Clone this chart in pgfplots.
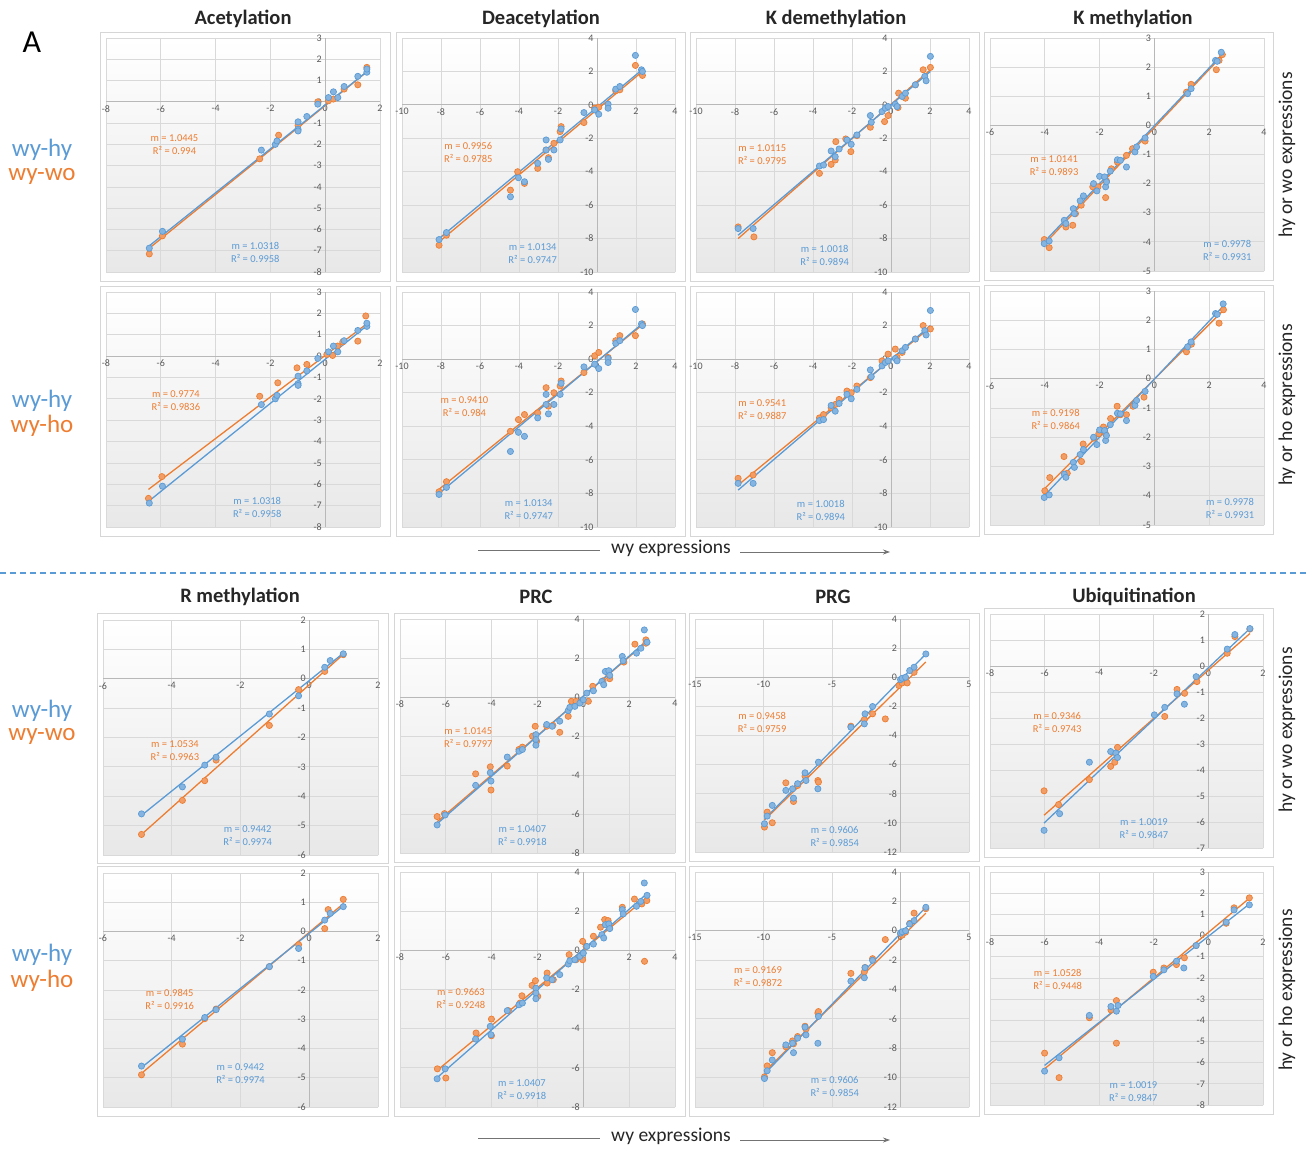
\documentclass[border=0pt]{standalone}
\usepackage{fontspec}
\setmainfont{Carlito}
\usepackage{pgfplots}
\pgfplotsset{compat=1.18}
\usetikzlibrary{arrows.meta}
\definecolor{bluec}{HTML}{5B9BD5}
\definecolor{orc}{HTML}{ED7D31}
\definecolor{gridc}{HTML}{D9D9D9}
\definecolor{tickc}{HTML}{595959}
\definecolor{framec}{HTML}{D6D6D6}
\definecolor{bgc}{HTML}{E8E8E8}
\pgfplotsset{
 panel/.style={scale only axis, anchor=north west, axis lines=middle,
   axis line style={-, draw=black!28, line width=0.8pt},
   grid=major, major grid style={draw=gridc, line width=0.8pt},
   major tick length=0pt,
   tick label style={font=\fontsize{10}{11}\selectfont, text=tickc},
   /pgf/number format/assume math mode=true,
   hide obscured x ticks=false, hide obscured y ticks=false, clip=false,
   axis background/.style={top color=white, middle color=white, bottom color=bgc}},
 bl/.style={only marks, mark=*, mark size=3.1pt, mark options={draw=bluec, fill=bluec!75, line width=0.7pt}},
 ol/.style={only marks, mark=*, mark size=3.1pt, mark options={draw=orc, fill=orc!75, line width=0.7pt}},
 blt/.style={no marks, draw=bluec, line width=1.3pt},
 olt/.style={no marks, draw=orc, line width=1.3pt},
}
\tikzset{ann/.style={font=\fontsize{10.5}{13}\selectfont, align=center}}
\begin{document}
\begin{tikzpicture}
\useasboundingbox (0,0) rectangle (1307pt,-1149pt);
% frames
\foreach \xa/\xb/\ya/\yb in {100/390/32/281, 396/685/32/281, 690/979/32/281, 984/1273/32/280,
  100/390/286/536, 396/685/286/536, 690/979/286/536, 984/1273/285/534,
  97/388/613/863, 394/685/613/862, 689/979/613/861, 984/1273/608/857,
  97/388/866/1116, 394/685/866/1116, 689/979/866/1116, 984/1273/866/1114}
  {\draw[framec, line width=0.8pt] (\xa pt,-\ya pt) rectangle (\xb pt,-\yb pt);}

% ---------- P1 Acetylation wy-wo
\begin{axis}[panel, at={(106pt,-38pt)}, width=274pt, height=234pt, xmin=-8,xmax=2,ymin=-8,ymax=3, xtick distance=2, ytick distance=1]
\addplot[ol] coordinates {(-6.42,-7.15) (-5.94,-6.3) (-2.39,-2.68) (-1.7,-1.57) (-0.27,0.0) (0.12,0.05) (0.3,0.13) (0.69,0.6) (1.19,0.8) (1.52,1.62) (-0.99,-1.1)};
\addplot[olt] coordinates {(-6.42,-6.88) (1.52,1.41)};
\addplot[bl] coordinates {(-6.42,-6.88) (-5.94,-6.09) (-2.33,-2.27) (-1.82,-2.0) (-1.76,-1.84) (-0.99,-0.94) (-0.99,-1.29) (-0.99,-1.37) (-0.67,-0.69) (-0.27,-0.11) (0.12,0.2) (0.3,0.47) (0.46,0.2) (0.69,0.72) (1.19,1.2) (1.52,1.39) (1.52,1.54)};
\addplot[blt] coordinates {(-6.42,-6.77) (1.52,1.42)};
\node[ann, orc] at (axis cs:-5.5,-2.0) {m = 1.0445\\R² = 0.994};
\node[ann, bluec] at (axis cs:-2.55,-7.08) {m = 1.0318\\R² = 0.9958};
\end{axis}

% ---------- P2 Deacetylation wy-wo
\begin{axis}[panel, at={(402pt,-38pt)}, width=273pt, height=234pt, xmin=-10,xmax=4,ymin=-10,ymax=4, xtick distance=2, ytick distance=2]
\addplot[ol] coordinates {(-8.1,-8.4) (-7.72,-7.8) (-4.44,-5.1) (-4.07,-4.0) (-3.72,-4.7) (-3.04,-3.8) (-2.61,-2.7) (-2.49,-3.16) (-2.21,-2.3) (-1.89,-1.6) (-1.84,-1.3) (-0.67,-1.06) (-0.12,-0.2) (0.09,-0.14) (0.96,0.84) (1.17,0.9) (1.97,2.36) (2.33,1.76)};
\addplot[olt] coordinates {(-8.1,-8.2) (2.33,2.0)};
\addplot[bl] coordinates {(-8.1,-8.06) (-7.72,-7.64) (-4.44,-5.5) (-4.03,-4.36) (-3.72,-4.6) (-3.04,-3.5) (-2.61,-2.1) (-2.61,-2.7) (-2.49,-3.26) (-2.21,-2.7) (-1.89,-2.1) (-1.84,-1.44) (-0.67,-0.46) (-0.12,-0.3) (0.09,-0.56) (0.57,0.04) (0.57,-0.2) (0.96,0.94) (1.17,1.1) (1.97,2.96) (2.28,2.1) (2.33,2.0)};
\addplot[blt] coordinates {(-8.1,-8.0) (2.33,2.12)};
\node[ann, orc] at (axis cs:-6.6,-2.84) {m = 0.9956\\R² = 0.9785};
\node[ann, bluec] at (axis cs:-3.3,-8.93) {m = 1.0134\\R² = 0.9747};
\end{axis}

% ---------- P3 K demethylation wy-wo
\begin{axis}[panel, at={(696pt,-38pt)}, width=273pt, height=234pt, xmin=-10,xmax=4,ymin=-10,ymax=4, xtick distance=2, ytick distance=2]
\addplot[ol] coordinates {(-7.84,-7.3) (-7.03,-7.9) (-3.67,-4.1) (-3.07,-3.56) (-2.86,-3.3) (-2.83,-2.2) (-2.32,-2.04) (-2.06,-2.8) (-1.75,-1.84) (-1.06,-1.34) (-0.33,-1.0) (-0.15,-0.64) (0.36,-0.16) (0.39,0.7) (0.74,0.4) (1.25,1.2) (1.65,2.1) (2.02,2.24)};
\addplot[olt] coordinates {(-7.84,-8.0) (2.02,2.1)};
\addplot[bl] coordinates {(-7.84,-7.4) (-7.07,-7.4) (-3.67,-3.66) (-3.46,-3.6) (-3.07,-2.76) (-2.86,-3.1) (-2.66,-2.64) (-2.26,-2.1) (-2.04,-2.36) (-1.75,-1.8) (-1.06,-0.64) (-1.01,-1.04) (-0.46,-0.4) (-0.29,-0.2) (-0.15,-0.1) (0.22,0.04) (0.31,-0.1) (0.57,0.5) (0.74,0.7) (1.25,1.2) (1.73,1.7) (1.8,1.44) (2.02,2.9)};
\addplot[blt] coordinates {(-7.84,-7.8) (2.02,2.0)};
\node[ann, orc] at (axis cs:-6.6,-2.95) {m = 1.0115\\R² = 0.9795};
\node[ann, bluec] at (axis cs:-3.4,-9.0) {m = 1.0018\\R² = 0.9894};
\end{axis}

% ---------- P4 K methylation wy-wo
\begin{axis}[panel, at={(990pt,-38pt)}, width=274pt, height=233pt, xmin=-6,xmax=4,ymin=-5,ymax=3, xtick distance=2, ytick distance=1]
\addplot[ol] coordinates {(-4.02,-3.92) (-3.84,-4.2) (-3.23,-3.49) (-2.98,-3.43) (-2.88,-3.03) (-2.67,-2.74) (-2.25,-2.11) (-2.06,-2.11) (-1.78,-2.48) (-1.75,-1.91) (-1.57,-1.49) (-1.35,-1.26) (-1.02,-1.03) (-0.8,-0.8) (-0.34,-0.54) (1.17,1.14) (1.34,1.41) (2.26,1.91) (2.36,2.23) (2.48,2.43)};
\addplot[olt] coordinates {(-4.02,-4.08) (2.48,2.4)};
\addplot[bl] coordinates {(-4.02,-4.06) (-3.84,-3.97) (-3.29,-3.26) (-3.23,-3.37) (-2.96,-2.86) (-2.92,-3.03) (-2.71,-2.59) (-2.59,-2.42) (-2.22,-2.0) (-2.1,-2.25) (-2.0,-1.75) (-1.82,-1.77) (-1.78,-2.11) (-1.75,-1.94) (-1.61,-1.57) (-1.35,-1.18) (-1.24,-1.2) (-1.02,-1.43) (-0.71,-0.91) (-0.65,-0.74) (-0.34,-0.43) (1.21,1.09) (1.34,1.26) (2.23,2.23) (2.29,2.2) (2.44,2.51)};
\addplot[blt] coordinates {(-4.02,-4.0) (2.48,2.45)};
\node[ann, orc] at (axis cs:-3.66,-1.38) {m = 1.0141\\R² = 0.9893};
\node[ann, bluec] at (axis cs:2.66,-4.3) {m = 0.9978\\R² = 0.9931};
\end{axis}

% ---------- P5 Acetylation wy-ho
\begin{axis}[panel, at={(106pt,-292pt)}, width=274pt, height=235pt, xmin=-8,xmax=2,ymin=-8,ymax=3, xtick distance=2, ytick distance=1]
\addplot[ol] coordinates {(-6.45,-6.66) (-5.96,-5.64) (-2.39,-1.88) (-1.73,-1.25) (-1.03,-0.55) (-0.67,-0.39) (0.06,0.08) (0.27,0.03) (0.45,0.47) (0.64,0.66) (1.19,0.7) (1.48,1.88)};
\addplot[olt] coordinates {(-6.45,-6.24) (1.58,1.57)};
\addplot[bl] coordinates {(-6.42,-6.88) (-5.94,-6.09) (-2.33,-2.27) (-1.82,-2.0) (-1.76,-1.84) (-0.99,-0.94) (-0.99,-1.29) (-0.99,-1.37) (-0.67,-0.69) (-0.27,-0.11) (0.12,0.2) (0.3,0.47) (0.46,0.2) (0.69,0.72) (1.19,1.2) (1.52,1.39) (1.52,1.54)};
\addplot[blt] coordinates {(-6.42,-6.77) (1.52,1.42)};
\node[ann, orc] at (axis cs:-5.45,-2.1) {m = 0.9774\\R² = 0.9836};
\node[ann, bluec] at (axis cs:-2.48,-7.08) {m = 1.0318\\R² = 0.9958};
\end{axis}

% ---------- P6 Deacetylation wy-ho
\begin{axis}[panel, at={(402pt,-292pt)}, width=273pt, height=235pt, xmin=-10,xmax=4,ymin=-10,ymax=4, xtick distance=2, ytick distance=2]
\addplot[ol] coordinates {(-8.1,-7.9) (-7.72,-7.3) (-4.44,-4.3) (-4.03,-3.6) (-3.72,-3.3) (-3.04,-3.2) (-2.61,-1.7) (-2.49,-2.8) (-2.21,-2.0) (-1.89,-1.6) (-1.84,-1.3) (-0.67,-0.8) (-0.12,0.2) (0.09,0.4) (0.57,0.1) (0.96,1.1) (1.17,1.4) (1.97,1.4) (2.33,2.1)};
\addplot[olt] coordinates {(-8.1,-7.75) (2.33,2.05)};
\addplot[bl] coordinates {(-8.1,-8.06) (-7.72,-7.64) (-4.44,-5.5) (-4.03,-4.36) (-3.72,-4.6) (-3.04,-3.5) (-2.61,-2.1) (-2.61,-2.7) (-2.49,-3.26) (-2.21,-2.7) (-1.89,-2.1) (-1.84,-1.44) (-0.67,-0.46) (-0.12,-0.3) (0.09,-0.56) (0.57,0.04) (0.57,-0.2) (0.96,0.94) (1.17,1.1) (1.97,2.96) (2.28,2.1) (2.33,2.0)};
\addplot[blt] coordinates {(-8.1,-8.0) (2.33,2.12)};
\node[ann, orc] at (axis cs:-6.8,-2.85) {m = 0.9410\\R² = 0.984};
\node[ann, bluec] at (axis cs:-3.5,-8.95) {m = 1.0134\\R² = 0.9747};
\end{axis}

% ---------- P7 K demethylation wy-ho
\begin{axis}[panel, at={(696pt,-292pt)}, width=273pt, height=235pt, xmin=-10,xmax=4,ymin=-10,ymax=4, xtick distance=2, ytick distance=2]
\addplot[ol] coordinates {(-7.84,-7.1) (-7.07,-6.9) (-3.67,-3.5) (-3.46,-3.3) (-3.07,-2.9) (-2.86,-2.7) (-2.66,-2.4) (-2.26,-1.9) (-2.04,-2.0) (-1.75,-1.6) (-1.06,-1.1) (-0.46,-0.1) (-0.15,0.3) (0.22,0.6) (0.31,0.1) (0.57,0.4) (1.25,1.2) (1.65,2.0) (2.02,1.8)};
\addplot[olt] coordinates {(-7.84,-7.5) (2.02,1.9)};
\addplot[bl] coordinates {(-7.84,-7.4) (-7.07,-7.4) (-3.67,-3.66) (-3.46,-3.6) (-3.07,-2.76) (-2.86,-3.1) (-2.66,-2.64) (-2.26,-2.1) (-2.04,-2.36) (-1.75,-1.8) (-1.06,-0.64) (-1.01,-1.04) (-0.46,-0.4) (-0.29,-0.2) (-0.15,-0.1) (0.22,0.04) (0.31,-0.1) (0.57,0.5) (0.74,0.7) (1.25,1.2) (1.73,1.7) (1.8,1.44) (2.02,2.9)};
\addplot[blt] coordinates {(-7.84,-7.8) (2.02,2.0)};
\node[ann, orc] at (axis cs:-6.6,-3.0) {m = 0.9541\\R² = 0.9887};
\node[ann, bluec] at (axis cs:-3.6,-9.0) {m = 1.0018\\R² = 0.9894};
\end{axis}

% ---------- P8 K methylation wy-ho
\begin{axis}[panel, at={(990pt,-291pt)}, width=274pt, height=234pt, xmin=-6,xmax=4,ymin=-5,ymax=3, xtick distance=2, ytick distance=1]
\addplot[ol] coordinates {(-4.0,-3.83) (-3.82,-3.38) (-3.3,-2.66) (-3.18,-3.23) (-2.66,-2.83) (-2.6,-2.23) (-2.21,-2.03) (-2.03,-1.88) (-1.78,-1.89) (-1.86,-1.65) (-1.6,-1.36) (-1.36,-0.94) (-1.24,-1.23) (-1.02,-1.23) (-0.78,-0.94) (-0.38,-0.63) (1.17,0.92) (1.35,1.18) (2.36,1.9) (2.52,2.36)};
\addplot[olt] coordinates {(-4.0,-3.75) (2.58,2.4)};
\addplot[bl] coordinates {(-4.02,-4.06) (-3.84,-3.97) (-3.29,-3.26) (-3.23,-3.37) (-2.96,-2.86) (-2.92,-3.03) (-2.71,-2.59) (-2.59,-2.42) (-2.22,-2.0) (-2.1,-2.25) (-2.0,-1.75) (-1.82,-1.77) (-1.78,-2.11) (-1.75,-1.94) (-1.61,-1.57) (-1.35,-1.18) (-1.24,-1.2) (-1.02,-1.43) (-0.71,-0.91) (-0.65,-0.74) (-0.34,-0.43) (1.21,1.09) (1.34,1.26) (2.23,2.23) (2.29,2.2) (2.51,2.56)};
\addplot[blt] coordinates {(-4.02,-4.0) (2.48,2.45)};
\node[ann, orc] at (axis cs:-3.6,-1.4) {m = 0.9198\\R² = 0.9864};
\node[ann, bluec] at (axis cs:2.76,-4.45) {m = 0.9978\\R² = 0.9931};
\end{axis}

% ---------- P9 R methylation wy-wo
\begin{axis}[panel, at={(103pt,-620pt)}, width=275pt, height=235pt, xmin=-6,xmax=2,ymin=-6,ymax=2, xtick distance=2, ytick distance=1]
\addplot[ol] coordinates {(-4.88,-5.3) (-3.69,-4.14) (-3.04,-3.47) (-2.71,-2.77) (-1.16,-1.59) (-0.31,-0.37) (0.45,0.25) (0.99,0.82)};
\addplot[olt] coordinates {(-4.88,-5.3) (0.99,0.83)};
\addplot[bl] coordinates {(-4.88,-4.6) (-3.69,-3.68) (-3.04,-2.94) (-2.71,-2.67) (-1.16,-1.2) (-0.31,-0.58) (0.45,0.39) (0.61,0.62) (0.99,0.85)};
\addplot[blt] coordinates {(-4.88,-4.65) (0.99,0.87)};
\node[ann, orc] at (axis cs:-3.91,-2.43) {m = 1.0534\\R² = 0.9963};
\node[ann, bluec] at (axis cs:-1.79,-5.35) {m = 0.9442\\R² = 0.9974};
\end{axis}

% ---------- P10 PRC wy-wo
\begin{axis}[panel, at={(400pt,-619pt)}, width=275pt, height=234pt, xmin=-8,xmax=4,ymin=-8,ymax=4, xtick distance=2, ytick distance=2]
\addplot[ol] coordinates {(-6.38,-6.13) (-6.06,-5.98) (-4.7,-3.94) (-4.06,-3.58) (-4.03,-4.77) (-3.32,-3.54) (-2.81,-2.69) (-2.66,-2.57) (-2.1,-1.5) (-2.22,-2.01) (-2.04,-2.27) (-1.6,-1.5) (-1.33,-1.45) (-1.03,-1.81) (-0.66,-0.99) (-0.52,-0.22) (-0.32,-0.22) (0.22,-0.22) (0.41,0.55) (0.86,0.83) (1.11,1.14) (1.15,0.94) (1.77,1.79) (2.25,2.71) (2.73,2.93) (2.73,2.76)};
\addplot[olt] coordinates {(-6.38,-6.4) (2.78,2.85)};
\addplot[bl] coordinates {(-6.38,-6.56) (-6.03,-6.05) (-4.7,-4.53) (-4.06,-3.88) (-4.03,-4.31) (-3.32,-3.08) (-2.81,-2.78) (-2.66,-2.69) (-2.07,-1.93) (-2.07,-2.18) (-2.07,-2.47) (-1.6,-1.41) (-1.36,-1.5) (-1.03,-1.24) (-0.66,-0.7) (-0.59,-0.53) (-0.37,-0.48) (-0.15,-0.31) (0,-0.14) (0.15,0.2) (0.44,0.32) (0.81,0.8) (0.89,0.63) (0.96,1.31) (1.11,1.35) (1.15,1.11) (1.7,2.08) (1.74,1.86) (2.32,2.25) (2.51,2.5) (2.66,3.44) (2.78,2.81)};
\addplot[blt] coordinates {(-6.38,-6.5) (2.78,2.9)};
\node[ann, orc] at (axis cs:-5.02,-2.06) {m = 1.0145\\R² = 0.9797};
\node[ann, bluec] at (axis cs:-2.66,-7.12) {m = 1.0407\\R² = 0.9918};
\end{axis}

% ---------- P11 PRG wy-wo
\begin{axis}[panel, at={(695pt,-619pt)}, width=274pt, height=233pt, xmin=-15,xmax=5,ymin=-12,ymax=4, xtick distance=5, ytick distance=2]
\addplot[ol] coordinates {(-9.93,-10.29) (-9.73,-9.26) (-9.36,-9.99) (-8.37,-7.25) (-7.81,-8.53) (-7.51,-7.43) (-6.97,-6.79) (-6.03,-7.09) (-5.99,-7.2) (-3.62,-3.36) (-2.64,-2.9) (-2.04,-2.51) (-1.11,-2.86) (-0.12,-0.57) (0.12,-0.39) (0.49,-0.39) (0.99,0.34)};
\addplot[olt] coordinates {(-9.93,-9.8) (1.85,1.05)};
\addplot[bl] coordinates {(-9.93,-10.06) (-9.73,-9.53) (-9.36,-8.8) (-8.37,-7.77) (-7.88,-7.66) (-7.81,-8.3) (-7.51,-7.31) (-6.97,-6.56) (-6.9,-7.09) (-6.03,-7.66) (-5.99,-5.83) (-3.62,-3.43) (-2.64,-3.2) (-2.59,-2.51) (-2.04,-2.01) (0,-0.16) (0.12,-0.07) (0.37,0) (0.67,0.46) (0.99,0.69) (1.85,1.6)};
\addplot[blt] coordinates {(-9.93,-9.75) (1.85,1.6)};
\node[ann, orc] at (axis cs:-10.1,-3.1) {m = 0.9458\\R² = 0.9759};
\node[ann, bluec] at (axis cs:-4.8,-10.95) {m = 0.9606\\R² = 0.9854};
\end{axis}

% ---------- P12 Ubiquitination wy-wo
\begin{axis}[panel, at={(990pt,-614pt)}, width=273pt, height=234pt, xmin=-8,xmax=2,ymin=-7,ymax=2, xtick distance=2, ytick distance=1]
\addplot[ol] coordinates {(-6.02,-4.8) (-5.49,-5.33) (-4.36,-4.37) (-3.58,-3.86) (-3.43,-3.7) (-3.33,-3.13) (-1.6,-1.94) (-1.15,-0.9) (-0.87,-1.05) (-0.42,-0.6) (0.69,0.49) (0.97,1.13) (1.52,1.42)};
\addplot[olt] coordinates {(-6.02,-5.74) (1.52,1.25)};
\addplot[bl] coordinates {(-6.02,-6.32) (-5.45,-5.68) (-4.36,-3.7) (-3.58,-3.29) (-3.39,-3.35) (-3.33,-3.52) (-1.98,-1.88) (-1.6,-1.59) (-1.15,-1.07) (-0.88,-1.47) (-0.45,-0.41) (0.69,0.65) (0.97,1.21) (1.52,1.44)};
\addplot[blt] coordinates {(-6.02,-6.04) (1.52,1.44)};
\node[ann, orc] at (axis cs:-5.54,-2.18) {m = 0.9346\\R² = 0.9743};
\node[ann, bluec] at (axis cs:-2.36,-6.27) {m = 1.0019\\R² = 0.9847};
\end{axis}

% ---------- P13 R methylation wy-ho
\begin{axis}[panel, at={(103pt,-873pt)}, width=275pt, height=234pt, xmin=-6,xmax=2,ymin=-6,ymax=2, xtick distance=2, ytick distance=1]
\addplot[ol] coordinates {(-4.88,-4.9) (-3.69,-3.85) (-3.04,-2.98) (-2.71,-2.65) (-1.16,-1.2) (-0.31,-0.45) (0.45,0.1) (0.55,0.75) (0.99,1.1)};
\addplot[olt] coordinates {(-4.88,-4.85) (0.99,0.95)};
\addplot[bl] coordinates {(-4.88,-4.6) (-3.69,-3.68) (-3.04,-2.94) (-2.71,-2.67) (-1.16,-1.2) (-0.31,-0.58) (0.45,0.39) (0.61,0.62) (0.99,0.85)};
\addplot[blt] coordinates {(-4.88,-4.65) (0.99,0.87)};
\node[ann, orc] at (axis cs:-4.06,-2.32) {m = 0.9845\\R² = 0.9916};
\node[ann, bluec] at (axis cs:-2.0,-4.85) {m = 0.9442\\R² = 0.9974};
\end{axis}

% ---------- P14 PRC wy-ho
\begin{axis}[panel, at={(400pt,-872pt)}, width=275pt, height=235pt, xmin=-8,xmax=4,ymin=-8,ymax=4, xtick distance=2, ytick distance=2]
\addplot[ol] coordinates {(-6.37,-6.05) (-6.0,-6.52) (-4.68,-4.22) (-4.01,-3.51) (-4.01,-4.36) (-3.27,-3.08) (-2.68,-2.32) (-2.76,-2.69) (-2.24,-1.79) (-2.09,-1.55) (-1.99,-2.35) (-1.58,-1.16) (-1.58,-1.67) (-1.31,-1.5) (-0.62,-0.22) (-0.32,-0.48) (-0.03,-0.48) (-0.03,0.46) (0.12,0.2) (0.44,0.72) (0.75,1.18) (0.93,1.57) (1.08,1.52) (1.15,1.14) (1.7,2.2) (2.23,2.62) (2.55,2.37) (2.67,-0.56) (2.77,2.54)};
\addplot[olt] coordinates {(-6.37,-6.12) (2.77,2.7)};
\addplot[bl] coordinates {(-6.38,-6.56) (-6.03,-6.05) (-4.7,-4.53) (-4.06,-3.88) (-4.03,-4.31) (-3.32,-3.08) (-2.81,-2.78) (-2.66,-2.69) (-2.07,-1.93) (-2.07,-2.18) (-2.07,-2.47) (-1.6,-1.41) (-1.36,-1.5) (-1.03,-1.24) (-0.66,-0.7) (-0.59,-0.53) (-0.37,-0.48) (-0.15,-0.31) (0,-0.14) (0.15,0.2) (0.44,0.32) (0.81,0.8) (0.89,0.63) (0.96,1.31) (1.11,1.35) (1.15,1.11) (1.7,2.08) (1.74,1.86) (2.32,2.25) (2.51,2.5) (2.66,3.44) (2.78,2.81)};
\addplot[blt] coordinates {(-6.38,-6.5) (2.78,2.9)};
\node[ann, orc] at (axis cs:-5.34,-2.46) {m = 0.9663\\R² = 0.9248};
\node[ann, bluec] at (axis cs:-2.68,-7.1) {m = 1.0407\\R² = 0.9918};
\end{axis}

% ---------- P15 PRG wy-ho
\begin{axis}[panel, at={(695pt,-872pt)}, width=274pt, height=235pt, xmin=-15,xmax=5,ymin=-12,ymax=4, xtick distance=5, ytick distance=2]
\addplot[ol] coordinates {(-9.93,-9.95) (-9.73,-9.2) (-9.36,-8.3) (-8.37,-7.9) (-7.88,-7.5) (-7.81,-7.7) (-7.51,-7.2) (-6.97,-6.5) (-6.9,-6.7) (-6.03,-5.6) (-5.99,-5.5) (-3.62,-2.9) (-2.64,-2.8) (-2.59,-2.5) (-2.04,-1.9) (-1.11,-0.6) (0,-0.2) (0.12,-0.3) (0.37,-0.1) (0.67,0.5) (0.99,1.2) (1.85,1.5)};
\addplot[olt] coordinates {(-9.93,-9.6) (1.85,1.2)};
\addplot[bl] coordinates {(-9.93,-10.06) (-9.73,-9.53) (-9.36,-8.8) (-8.37,-7.77) (-7.88,-7.66) (-7.81,-8.3) (-7.51,-7.31) (-6.97,-6.56) (-6.9,-7.09) (-6.03,-7.66) (-5.99,-5.83) (-3.62,-3.43) (-2.64,-3.2) (-2.59,-2.51) (-2.04,-2.01) (0,-0.16) (0.12,-0.07) (0.37,0) (0.67,0.46) (0.99,0.69) (1.85,1.6)};
\addplot[blt] coordinates {(-9.93,-9.75) (1.85,1.6)};
\node[ann, orc] at (axis cs:-10.4,-3.1) {m = 0.9169\\R² = 0.9872};
\node[ann, bluec] at (axis cs:-4.8,-10.6) {m = 0.9606\\R² = 0.9854};
\end{axis}

% ---------- P16 Ubiquitination wy-ho
\begin{axis}[panel, at={(990pt,-872pt)}, width=273pt, height=233pt, xmin=-8,xmax=2,ymin=-8,ymax=3, xtick distance=2, ytick distance=1]
\addplot[ol] coordinates {(-6.0,-5.55) (-5.47,-6.71) (-4.36,-3.88) (-3.57,-3.51) (-3.37,-3.07) (-3.37,-5.08) (-2.02,-1.73) (-1.63,-1.53) (-1.17,-1.37) (-0.88,-1.05) (-0.45,-0.47) (0.65,0.58) (0.94,1.31) (1.5,1.78)};
\addplot[olt] coordinates {(-6.0,-6.29) (1.5,1.76)};
\addplot[bl] coordinates {(-6.0,-6.4) (-5.47,-5.77) (-4.36,-3.77) (-3.57,-3.35) (-3.37,-3.57) (-3.31,-3.3) (-2.02,-1.93) (-1.63,-1.62) (-1.17,-1.21) (-0.9,-1.53) (-0.45,-0.47) (0.65,0.63) (0.94,1.21) (1.5,1.45)};
\addplot[blt] coordinates {(-6.0,-6.13) (1.5,1.49)};
\node[ann, orc] at (axis cs:-5.52,-2.09) {m = 1.0528\\R² = 0.9448};
\node[ann, bluec] at (axis cs:-2.75,-7.37) {m = 1.0019\\R² = 0.9847};
\end{axis}

% ---------- texts
\node[font=\fontsize{32}{34}\selectfont] at (32pt,-42pt) {A};
\foreach \x/\t in {243/Acetylation, 541/Deacetylation, 836/K demethylation, 1133/K methylation}
  {\node[font=\fontsize{20.5}{22}\selectfont\bfseries, text=black!85] at (\x pt,-19pt) {\t};}
\foreach \x/\t in {240/R methylation, 536/PRC, 833/PRG, 1134/Ubiquitination}
  {\node[font=\fontsize{20.5}{22}\selectfont\bfseries, text=black!85] at (\x pt,-597pt) {\t};}
\foreach \y/\t in {150/wy-hy, 401/wy-hy, 711/wy-hy, 955/wy-hy}
  {\node[font=\fontsize{25}{27}\selectfont, text=bluec] at (42pt,-\y pt) {\t};}
\node[font=\fontsize{25}{27}\selectfont, text=orc] at (42pt,-176pt) {wy-wo};
\node[font=\fontsize{25}{27}\selectfont, text=orc] at (42pt,-426pt) {wy-ho};
\node[font=\fontsize{25}{27}\selectfont, text=orc] at (42pt,-736pt) {wy-wo};
\node[font=\fontsize{25}{27}\selectfont, text=orc] at (42pt,-981pt) {wy-ho};
\node[font=\fontsize{19.5}{21}\selectfont, rotate=90, text=black!85] at (1287pt,-155pt) {hy or wo expressions};
\node[font=\fontsize{19.5}{21}\selectfont, rotate=90, text=black!85] at (1287pt,-405pt) {hy or ho expressions};
\node[font=\fontsize{19.5}{21}\selectfont, rotate=90, text=black!85] at (1287pt,-730pt) {hy or wo expressions};
\node[font=\fontsize{19.5}{21}\selectfont, rotate=90, text=black!85] at (1287pt,-990pt) {hy or ho expressions};
\foreach \y in {548, 1136}{
  \node[font=\fontsize{19.5}{21}\selectfont, text=black!85] at (671pt,-\y pt) {wy expressions};
  \draw[black!55, line width=0.8pt] (478pt,-\y pt-2pt) -- (600pt,-\y pt-2pt);
  \draw[black!55, line width=0.8pt, -{Stealth[length=7pt,width=5pt]}] (740pt,-\y pt-4pt) -- (890pt,-\y pt-4pt);
}
\draw[bluec, line width=1.5pt, dash pattern=on 6pt off 4pt] (0pt,-573pt) -- (1307pt,-573pt);
\end{tikzpicture}
\end{document}
